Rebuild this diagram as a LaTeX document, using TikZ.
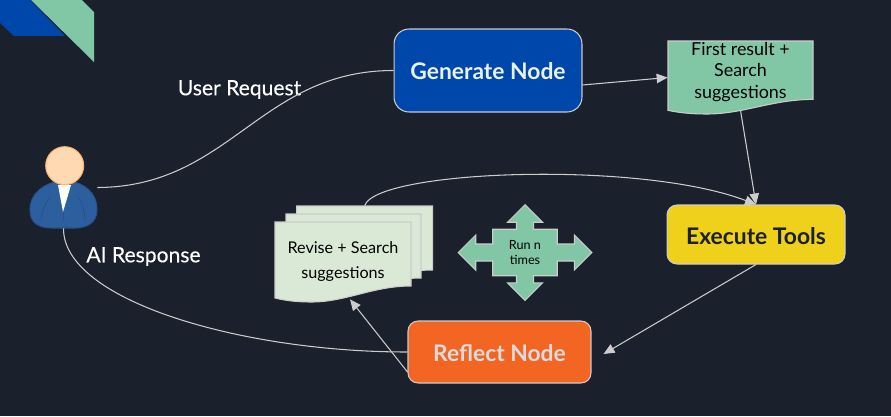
\documentclass[tikz,border=0pt]{standalone}
\usepackage{fontspec}
\setmainfont{Lato}
\newfontfamily\labelfont[FakeBold=0.3]{Lato}
\usetikzlibrary{arrows.meta,shapes.arrows}
\definecolor{bgdark}{HTML}{1A202C}
\definecolor{edgegrey}{HTML}{CCCCCC}
\definecolor{blueNode}{HTML}{0047AB}
\definecolor{yellowNode}{HTML}{EFD01A}
\definecolor{orangeNode}{HTML}{F26522}
\definecolor{greenDoc}{HTML}{82C7A5}
\definecolor{paleDoc}{HTML}{D9E9D5}
\definecolor{suitBlue}{HTML}{2D5F9F}
\definecolor{suitLine}{HTML}{27508C}
\tikzset{
    titlenode/.style = {rectangle, rounded corners=0.3cm, minimum width=3.76cm, minimum height=1.66cm, text centered, draw=edgegrey, line width=0.6pt, inner sep=0pt, text height=10.4pt, text depth=0pt, font=\fontsize{13}{15}\selectfont\bfseries},
    docbox/.style = {rectangle, inner sep=0pt},
    doctext/.style = {align=center, text=black, inner sep=0pt},
    freetext/.style = {text=white, inner sep=0pt, font=\fontsize{12}{14}\labelfont},
    docshape/.style = {draw=edgegrey, line width=0.6pt},
    arrow/.style = {line width=0.6pt, draw=edgegrey, -{Triangle[length=0.22cm,width=0.19cm,fill=edgegrey]}},
    wire/.style = {line width=0.6pt, draw=edgegrey}
}
\newcommand{\wavedoc}[5]{%
  \draw [docshape, fill=#1] (#2,#3) -- ({#2+#4},#3) -- ({#2+#4},{#3+.8*#5})
    .. controls ({#2+.72*#4},{#3+.8*#5}) and ({#2+.52*#4},{#3+#5}) .. ({#2+.27*#4},{#3+#5})
    .. controls ({#2+.15*#4},{#3+#5}) and ({#2+.07*#4},{#3+.98*#5}) .. (#2,{#3+.95*#5}) -- cycle;}
\begin{document}
\begin{tikzpicture}[x=0.02cm,y=-0.02cm]
\useasboundingbox [fill=bgdark] (0,0) rectangle (891,416);

% corner mark
\fill [blueNode] (0,0) -- (30,0) -- (65,36) -- (14,36) -- (0,23) -- cycle;
\fill [greenDoc] (31,0) -- (82,0) -- (94,12) -- (94,62) -- cycle;

% user
\draw [fill=suitBlue, draw=suitLine, line width=0.6pt]
  (30,210) .. controls (30,192) and (45,184) .. (58,181) -- (71,181)
  .. controls (84,184) and (97,192) .. (97,210)
  .. controls (97,224) and (85,228) .. (75,228) -- (52,228)
  .. controls (40,228) and (30,224) .. (30,210) -- cycle;
\fill [white] (58,185) -- (71,185) -- (63,212) -- cycle;
\draw [suitLine, line width=0.4pt] (41,222) .. controls (41,212) and (45,204) .. (50,197);
\draw [suitLine, line width=0.4pt] (85,222) .. controls (85,212) and (83,204) .. (78,197);
\draw [suitLine, line width=0.4pt] (63,212) -- (63,221);
\draw [fill=orange!30!white, draw=orange!60!white, line width=0.6pt] (64.7,165.7) circle (19);
\node (user) [docbox, minimum width=1.34cm, minimum height=1.62cm] at (63.5,187.5) {};

% documents
\wavedoc{greenDoc}{668}{41}{145}{73}
\wavedoc{paleDoc}{296.7}{206}{136}{80}
\wavedoc{paleDoc}{286}{214}{135}{80}
\wavedoc{paleDoc}{275}{222}{136}{80}
\node (first) [docbox, minimum width=2.9cm, minimum height=1.46cm] at (740.5,77.5) {};
\node (firsttext) [doctext, font=\fontsize{10.2}{12}\selectfont] at (740.5,72) {First result +\\Search\\suggestions};
\node (revise) [docbox, minimum width=2.72cm, minimum height=1.6cm] at (343,262) {};
\node (reviseback) [docbox, minimum width=2.72cm, minimum height=1.6cm] at (364.7,246) {};
\node (revisetext) [doctext, font=\fontsize{9.2}{14.7}\selectfont] at (343,261.5) {Revise + Search\\suggestions};

% run n times
\node (run) [arrow box, draw=edgegrey, fill=greenDoc, line width=0.6pt, text=black, align=center, inner sep=0pt,
  minimum width=1.29cm, minimum height=0.93cm, arrow box shaft width=0.34cm, arrow box head extend=0.18cm,
  arrow box head indent=0cm, arrow box tip angle=90,
  arrow box arrows={north:0.48cm, south:0.48cm, east:0.68cm, west:0.68cm},
  font=\fontsize{7.2}{8.5}\selectfont] at (525,252.5) {Run n\\times};

% main nodes
\node (generate) [titlenode, fill=blueNode, text=paleDoc!60!white] at (488,70.5) {Generate Node};
\node (execute) [titlenode, fill=yellowNode, text=bgdark, minimum width=3.56cm, minimum height=1.18cm, rounded corners=0.2cm, text height=11.6pt] at (756,234.5) {Execute Tools};
\node (reflect) [titlenode, fill=orangeNode, text=edgegrey!70!white, minimum width=3.66cm, minimum height=1.24cm, rounded corners=0.2cm] at (499.5,352) {Reflect Node};

\node (userrequest) [freetext] at (239.5,89.5) {User Request};
\node (airesponse) [freetext] at (143.5,256.5) {AI Response};

% connectors
\draw [wire] (user.east) .. controls (230,187) and (260,70.5) .. (generate.west);
\draw [wire] (user.south) .. controls (63,300) and (240,352) .. (reflect.west);
\draw [arrow] ([yshift=-0.29cm]generate.east) -- (first.west);
\draw [arrow] ([yshift=0.08cm]first.south) -- (execute.north);
\draw [arrow] (reviseback.north) .. controls (376,170) and (640,160) .. (execute.north);
\draw [arrow] (execute.south) -- ([xshift=0.24cm,yshift=-0.04cm]reflect.east);
\draw [arrow] ([yshift=-0.4cm]reflect.west) -- ([xshift=0.14cm,yshift=0.06cm]revise.south);
\end{tikzpicture}
\end{document}
